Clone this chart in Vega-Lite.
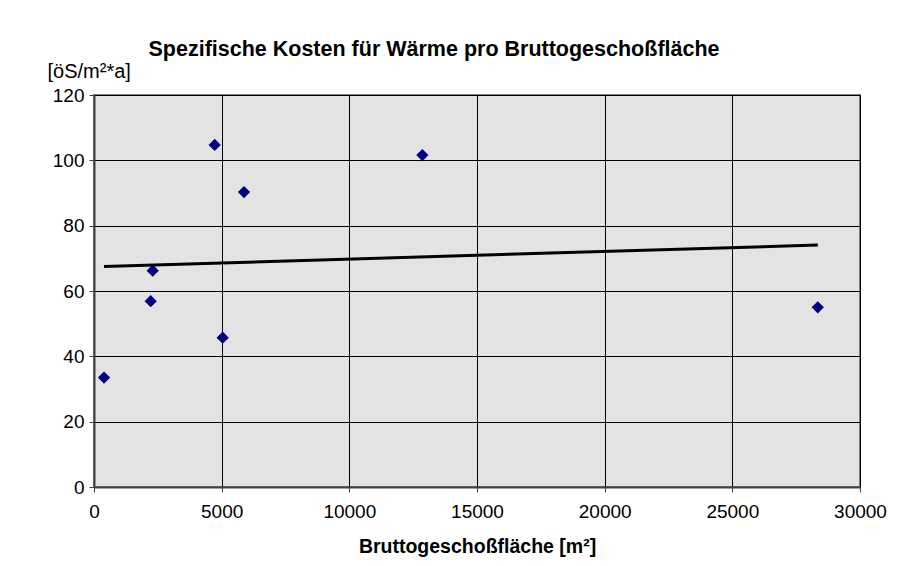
{
  "$schema": "https://vega.github.io/schema/vega-lite/v6.json",
  "autosize": "none",
  "width": 766,
  "height": 392,
  "padding": {"left": 94, "top": 95, "right": 37, "bottom": 79},
  "background": "white",
  "title": {
    "text": "Spezifische Kosten für Wärme pro Bruttogeschoßfläche",
    "font": "Liberation Sans",
    "fontSize": 21.5,
    "fontWeight": "bold",
    "color": "black",
    "anchor": "middle",
    "frame": "group",
    "dx": -43,
    "dy": 5,
    "offset": 6
  },
  "data": {
    "values": [
      {"flaeche": 392, "kosten": 33.5},
      {"flaeche": 2220, "kosten": 56.9},
      {"flaeche": 2300, "kosten": 66.2},
      {"flaeche": 4727, "kosten": 104.7},
      {"flaeche": 5040, "kosten": 45.7},
      {"flaeche": 5875, "kosten": 90.3},
      {"flaeche": 12860, "kosten": 101.6},
      {"flaeche": 28346, "kosten": 55.0}
    ]
  },
  "config": {
    "view": {"fill": "#e3e3e3", "stroke": "#808080", "strokeWidth": 2},
    "axis": {
      "labelFont": "Liberation Sans",
      "titleFont": "Liberation Sans",
      "labelFontSize": 19,
      "labelColor": "black",
      "titleColor": "black",
      "gridColor": "black",
      "gridOpacity": 1,
      "gridWidth": 1,
      "domainColor": "#404040",
      "domainWidth": 2,
      "tickColor": "#404040",
      "tickSize": 5,
      "tickWidth": 1
    }
  },
  "layer": [
    {
      "mark": {"type": "point", "shape": "diamond", "filled": true, "color": "#000080", "size": 150, "opacity": 1},
      "encoding": {
        "x": {
          "field": "flaeche",
          "type": "quantitative",
          "scale": {"domain": [0, 30000], "nice": false, "zero": true},
          "axis": {
            "values": [0, 5000, 10000, 15000, 20000, 25000, 30000],
            "format": "d",
            "title": "Bruttogeschoßfläche [m²]",
            "titleFontSize": 19.5,
            "titleFontWeight": "bold",
            "titlePadding": 16,
            "labelPadding": 10,
            "labelFlush": false
          }
        },
        "y": {
          "field": "kosten",
          "type": "quantitative",
          "scale": {"domain": [0, 120], "nice": false},
          "axis": {
            "values": [0, 20, 40, 60, 80, 100, 120],
            "title": "[öS/m²*a]",
            "titleFontSize": 20,
            "titleFontWeight": "normal",
            "titleAngle": 0,
            "titleAlign": "left",
            "titleBaseline": "alphabetic",
            "titleX": -47,
            "titleY": -18,
            "labelPadding": 5,
            "labelFlush": false
          }
        }
      }
    },
    {
      "transform": [{"regression": "kosten", "on": "flaeche"}],
      "mark": {"type": "line", "color": "black", "strokeWidth": 3},
      "encoding": {
        "x": {"field": "flaeche", "type": "quantitative"},
        "y": {"field": "kosten", "type": "quantitative"}
      }
    }
  ]
}
